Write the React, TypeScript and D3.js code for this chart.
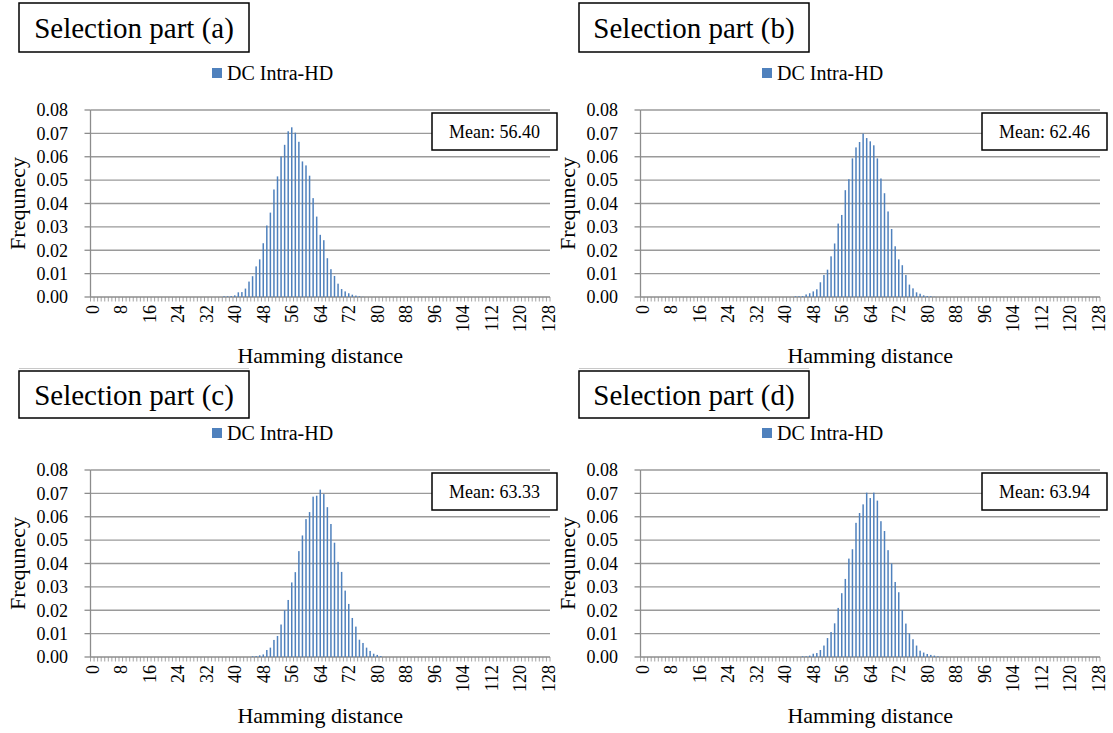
import React from "react";
import * as d3 from "d3";

// Hamming distance categories 0..128
const hdCategories: number[] = d3.range(0, 129);
const xTickLabels: number[] = [0, 8, 16, 24, 32, 40, 48, 56, 64, 72, 80, 88, 96, 104, 112, 120, 128];
const yTickValues: number[] = [0, 0.01, 0.02, 0.03, 0.04, 0.05, 0.06, 0.07, 0.08];

const legendLabel = "DC Intra-HD";
const panelTitles = ["Selection part (a)", "Selection part (b)", "Selection part (c)", "Selection part (d)"];
const panelMeans = ["Mean: 56.40", "Mean: 62.46", "Mean: 63.33", "Mean: 63.94"];

// Frequencies (first non-zero Hamming distance + consecutive values)
const partAStart = 37;
const partAFreq = [
  0.0003, 0.0003, 0.0004, 0.0007, 0.002, 0.0021, 0.0036, 0.0066, 0.0089, 0.0131,
  0.0161, 0.023, 0.0306, 0.0361, 0.046, 0.0516, 0.0601, 0.0651, 0.0709, 0.0726,
  0.0703, 0.0664, 0.058, 0.0563, 0.0519, 0.0423, 0.0344, 0.0266, 0.0243, 0.0166,
  0.0119, 0.009, 0.0057, 0.0034, 0.0024, 0.0016, 0.001, 0.0006, 0.0003, 0.0001,
];

const partBStart = 43;
const partBFreq = [
  0.0003, 0.0003, 0.0004, 0.0011, 0.0016, 0.0024, 0.0033, 0.0063, 0.0094, 0.0117,
  0.0174, 0.0229, 0.0314, 0.0351, 0.0457, 0.0504, 0.0593, 0.064, 0.0663, 0.0699,
  0.068, 0.0666, 0.0649, 0.0593, 0.0507, 0.0444, 0.0366, 0.0291, 0.0217, 0.0161,
  0.0136, 0.0094, 0.0053, 0.0037, 0.002, 0.0014, 0.0007, 0.0004, 0.0003, 0.0001,
];

const partCStart = 45;
const partCFreq = [
  0.0003, 0.0004, 0.0007, 0.0011, 0.003, 0.004, 0.0073, 0.009, 0.0139, 0.02,
  0.0244, 0.0319, 0.0363, 0.0453, 0.052, 0.059, 0.062, 0.0686, 0.069, 0.0716,
  0.0697, 0.0641, 0.0569, 0.0489, 0.0407, 0.0364, 0.0284, 0.0227, 0.0167, 0.013,
  0.0074, 0.006, 0.004, 0.0026, 0.0014, 0.0009, 0.0004,
];

const partDStart = 45;
const partDFreq = [
  0.0003, 0.0003, 0.0006, 0.0014, 0.0017, 0.003, 0.0049, 0.0081, 0.0107, 0.0144,
  0.021, 0.0273, 0.0334, 0.0421, 0.0461, 0.0574, 0.0616, 0.0653, 0.0703, 0.068,
  0.0703, 0.0669, 0.0581, 0.0539, 0.0457, 0.04, 0.0321, 0.0277, 0.02, 0.0143,
  0.0101, 0.0076, 0.0049, 0.0027, 0.0019, 0.0013, 0.0009, 0.0006, 0.0003, 0.0001,
];

function fullSeries(start: number, vals: number[]): number[] {
  return hdCategories.map((c) => (c >= start && c < start + vals.length ? vals[c - start] : 0));
}

const series = [
  fullSeries(partAStart, partAFreq),
  fullSeries(partBStart, partBFreq),
  fullSeries(partCStart, partCFreq),
  fullSeries(partDStart, partDFreq),
];

const FONT = "'Liberation Serif', 'Times New Roman', serif";
const BAR = "#4f81bd";
const GRID = "#9a9a9a";
const AXIS = "#8c8c8c";

const panelOffsets = [
  [0, 0],
  [550, 0],
  [0, 360],
  [550, 360],
];
const titleBoxes = [
  [19, 3, 230, 49],
  [579, 3, 230, 49],
  [19, 371, 230, 47],
  [579, 371, 230, 47],
];

function Panel({ idx }: { idx: number }) {
  const [ox, oy] = panelOffsets[idx];
  const data = series[idx];
  const L = 90.5, R = 550, T = 110, B = 297;
  const x = d3.scaleBand<number>().domain(hdCategories).range([L, R]).padding(0);
  const step = x.step();
  const y = d3.scaleLinear().domain([0, 0.08]).range([B, T]);
  const bw = step * 0.42;

  return (
    <g transform={`translate(${ox},${oy})`}>
      {/* legend */}
      <rect x={212} y={68} width={10} height={10} fill={BAR} />
      <text x={227} y={80} fontSize={20} fontFamily={FONT}>{legendLabel}</text>

      {/* gridlines */}
      {yTickValues.map((v) => (
        <line key={"g" + v} x1={L} x2={R} y1={y(v)} y2={y(v)} stroke={v === 0 ? AXIS : GRID} strokeWidth={1.3} />
      ))}
      {/* y axis */}
      <line x1={L} x2={L} y1={T} y2={B} stroke={AXIS} strokeWidth={1.3} />
      {yTickValues.map((v) => (
        <g key={"yt" + v}>
          <line x1={L - 6} x2={L} y1={y(v)} y2={y(v)} stroke={AXIS} strokeWidth={1.3} />
          <text x={68} y={y(v)} dy="0.35em" textAnchor="end" fontSize={18} fontFamily={FONT}>
            {v.toFixed(2)}
          </text>
        </g>
      ))}
      {/* x axis minor ticks */}
      {hdCategories.map((c) => (
        <line key={"xt" + c} x1={x(c)!} x2={x(c)!} y1={B} y2={B + 4.5} stroke={AXIS} strokeWidth={0.8} />
      ))}
      <line x1={R} x2={R} y1={B} y2={B + 4.5} stroke={AXIS} strokeWidth={0.8} />
      {/* bars */}
      {hdCategories.map((c) =>
        data[c] > 0 ? (
          <rect
            key={"b" + c}
            x={x(c)! + (step - bw) / 2}
            y={y(data[c])}
            width={bw}
            height={B - y(data[c])}
            fill={BAR}
          />
        ) : null
      )}
      {/* x labels */}
      {xTickLabels.map((c) => (
        <text
          key={"xl" + c}
          transform={`translate(${x(c)! + step / 2},${305}) rotate(-90)`}
          textAnchor="end"
          dy="0.35em"
          fontSize={18}
          fontFamily={FONT}
        >
          {c}
        </text>
      ))}
      {/* axis titles */}
      <text x={(L + R) / 2} y={363} textAnchor="middle" fontSize={22} fontFamily={FONT}>
        Hamming distance
      </text>
      <text transform={`translate(25,${(T + B) / 2}) rotate(-90)`} textAnchor="middle" fontSize={22} fontFamily={FONT}>
        Frequnecy
      </text>
      {/* mean box */}
      <rect x={432} y={113} width={125} height={37} fill="white" stroke="black" strokeWidth={1.5} />
      <text x={494.5} y={138} textAnchor="middle" fontSize={18} fontFamily={FONT}>
        {panelMeans[idx]}
      </text>
    </g>
  );
}

export default function App() {
  return (
    <svg width={1113} height={733} style={{ position: "absolute", left: 0, top: 0, background: "white" }}>
      <rect x={0} y={0} width={1113} height={733} fill="white" />
      {/* faint separators */}
      <line x1={19} x2={249} y1={368.5} y2={368.5} stroke="#c8c8c8" strokeWidth={1} />
      <line x1={579} x2={809} y1={368.5} y2={368.5} stroke="#c8c8c8" strokeWidth={1} />
      {[0, 1, 2, 3].map((i) => (
        <Panel key={i} idx={i} />
      ))}
      {titleBoxes.map(([bx, by, bwid, bh], i) => (
        <g key={"tb" + i}>
          <rect x={bx} y={by} width={bwid} height={bh} fill="white" stroke="black" strokeWidth={1.5} />
          <text x={bx + bwid / 2} y={by + bh / 2} dy="0.35em" textAnchor="middle" fontSize={29} fontFamily={FONT}>
            {panelTitles[i]}
          </text>
        </g>
      ))}
    </svg>
  );
}
